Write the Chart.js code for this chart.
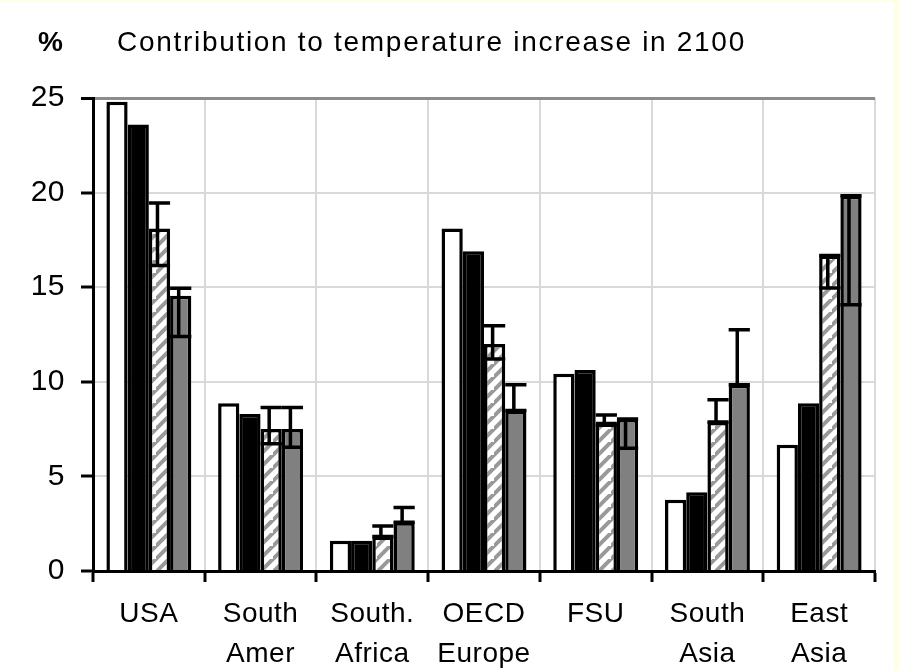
<!DOCTYPE html>
<html>
<head>
<meta charset="utf-8">
<script src="https://cdn.jsdelivr.net/npm/chart.js@4.4.1/dist/chart.umd.min.js"></script>
<style>
  html, body { margin: 0; padding: 0; background: #fff; }
  canvas { display: block; }
</style>
</head>
<body>
<canvas id="chart" width="899" height="670"></canvas>
<script>
const labels = [
    'USA',
    ['South', 'Amer'],
    ['South.', 'Africa'],
    ['OECD', 'Europe'],
    'FSU',
    ['South', 'Asia'],
    ['East', 'Asia'],
];

const whiteValues = [24.8, 8.87, 1.6, 18.1, 10.42, 3.76, 6.67];
const blackValues = [23.6, 8.3, 1.6, 16.9, 10.63, 4.16, 8.87];
const hatchValues = [18.1, 7.5, 1.82, 12.0, 7.9, 7.87, 16.67];
const hatchLow = [16.15, 6.72, 1.82, 11.2, 7.7, 7.87, 14.96];
const hatchHigh = [19.45, 8.64, 2.38, 12.96, 8.25, 9.05, 16.67];
const grayValues = [14.55, 7.5, 2.58, 8.48, 8.04, 9.84, 19.84];
const grayLow = [12.4, 6.54, 2.58, 8.48, 6.49, 9.84, 14.07];
const grayHigh = [14.94, 8.64, 3.35, 9.84, 8.04, 12.75, 19.84];

const yTicks = [0, 5, 10, 15, 20, 25];

const FONT = "'Liberation Sans', Arial, sans-serif";

// white with grey "/" stripes
let makeHatch = () => {
    const n = 13;
    const c = document.createElement('canvas');
    c.width = n;
    c.height = n;
    const g = c.getContext('2d');
    g.fillStyle = '#fff';
    g.fillRect(0, 0, n, n);
    g.strokeStyle = '#999';
    g.lineWidth = 4;
    g.beginPath();
    g.moveTo(-3, n + 3); g.lineTo(n + 3, -3);
    g.moveTo(-n - 3, n + 3); g.lineTo(3, -3);
    g.moveTo(n - 3, 2 * n + 3); g.lineTo(2 * n + 3, n - 3);
    g.stroke();
    return g.createPattern(c, 'repeat');
};

const barBase = {
    borderColor: '#000',
    borderWidth: 3.5,
    categoryPercentage: 0.76,
    barPercentage: 1.0,
};

const errorBars = {
    id: 'errorBars',
    afterDatasetsDraw(chart) {
        const ctx = chart.ctx;
        const y = chart.scales.y;
        const ranges = [null, null, [hatchLow, hatchHigh], [grayLow, grayHigh]];
        ctx.save();
        ctx.strokeStyle = '#000';
        ctx.lineWidth = 3.5;
        ranges.forEach((r, di) => {
            if (!r) return;
            chart.getDatasetMeta(di).data.forEach((bar, i) => {
                const lo = y.getPixelForValue(r[0][i]);
                const hi = y.getPixelForValue(r[1][i]);
                const half = bar.width / 2;
                const cx = bar.x - 2;
                ctx.beginPath();
                ctx.moveTo(cx, lo); ctx.lineTo(cx, hi);
                ctx.moveTo(bar.x - half, hi); ctx.lineTo(bar.x + half, hi);
                ctx.moveTo(bar.x - half, lo); ctx.lineTo(bar.x + half, lo);
                ctx.stroke();
            });
        });
        ctx.restore();
    }
};

const frame = {
    id: 'frame',
    beforeLayout(chart) {
        chart.ctx.letterSpacing = '0.5px';
    },
    beforeDraw(chart) {
        const ctx = chart.ctx;
        ctx.letterSpacing = '0.5px';
        ctx.save();
        ctx.fillStyle = '#ffffe8';
        ctx.fillRect(0, 0, chart.width, chart.height);
        ctx.fillStyle = '#fff';
        ctx.fillRect(0, 2, 894, chart.height - 2);
        ctx.restore();
    },
    afterDraw(chart) {
        const ctx = chart.ctx;
        ctx.save();
        ctx.fillStyle = '#000';
        ctx.textBaseline = 'alphabetic';
        ctx.letterSpacing = '0px';
        ctx.font = 'bold 28px ' + FONT;
        ctx.fillText('%', 38, 51);
        ctx.letterSpacing = '1.7px';
        ctx.font = '28px ' + FONT;
        ctx.fillText('Contribution to temperature increase in 2100', 117, 51);
        ctx.restore();
    }
};

new Chart(document.getElementById('chart'), {
    type: 'bar',
    data: {
        labels: labels,
        datasets: [
            { ...barBase, data: whiteValues, backgroundColor: '#fff' },
            { ...barBase, data: blackValues, backgroundColor: '#000' },
            { ...barBase, data: hatchValues, backgroundColor: makeHatch() },
            { ...barBase, data: grayValues, backgroundColor: '#808080' },
        ]
    },
    options: {
        responsive: false,
        animation: false,
        layout: { padding: { top: 98, right: 24, left: 0, bottom: 0 } },
        plugins: {
            legend: { display: false },
            tooltip: { enabled: false },
        },
        scales: {
            x: {
                offset: true,
                grid: {
                    offset: true,
                    color: c => c.index === labels.length ? '#8c8c8c' : '#d9d9d9',
                    lineWidth: c => c.index === labels.length ? 3 : 2,
                    tickColor: '#000',
                    tickWidth: 3,
                    tickLength: 11,
                },
                border: { color: '#000', width: 3 },
                ticks: {
                    color: '#000',
                    font: { family: FONT, size: 28, lineHeight: 1.4 },
                    padding: 13,
                    maxRotation: 0,
                    autoSkip: false,
                },
                afterFit: s => { s.height = 99; },
            },
            y: {
                min: 0,
                max: 25,
                afterBuildTicks: s => { s.ticks = yTicks.map(v => ({ value: v })); },
                grid: {
                    color: c => c.tick && c.tick.value === 25 ? '#8c8c8c' : '#d9d9d9',
                    lineWidth: c => c.tick && c.tick.value === 25 ? 3 : 2,
                    tickColor: '#000',
                    tickWidth: 3,
                    tickLength: 12,
                },
                border: { color: '#000', width: 3 },
                ticks: {
                    color: '#000',
                    font: { family: FONT, size: 30 },
                    padding: 16,
                },
                afterFit: s => { s.width = 93; },
            },
        },
    },
    plugins: [frame, errorBars],
});
</script>
</body>
</html>
